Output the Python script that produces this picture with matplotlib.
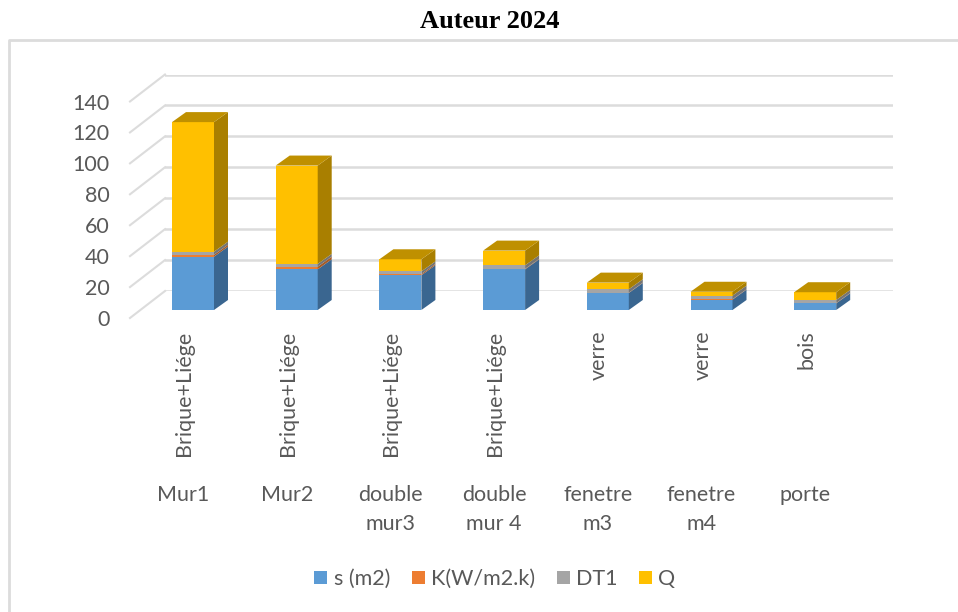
import numpy as np
import matplotlib
matplotlib.use("Agg")
import matplotlib.pyplot as plt
from matplotlib.patches import Polygon, Patch
from matplotlib.transforms import Affine2D, ScaledTranslation

categories = ["Mur1", "Mur2", "double\nmur3", "double\nmur 4", "fenetre\nm3", "fenetre\nm4", "porte"]
materials = ["Brique+Liége", "Brique+Liége", "Brique+Liége", "Brique+Liége", "verre", "verre", "bois"]
s_m2 = [34.5, 26.3, 22.5, 26.3, 11.0, 6.7, 4.3]
k_val = [1.2, 1.7, 0.8, 0.3, 0.2, 0.2, 0.2]
dt1 = [2.0, 1.8, 1.7, 2.3, 2.2, 2.4, 2.0]
q_val = [83.8, 63.6, 7.8, 9.5, 4.3, 2.5, 5.0]
series_names = ["s (m2)", "K(W/m2.k)", "DT1", "Q"]
series = [s_m2, k_val, dt1, q_val]
face_colors = ["#5B9BD5", "#ED7D31", "#A5A5A5", "#FFC000"]
side_colors = ["#3A6690", "#A65A25", "#747474", "#A97F00"]
top_color = "#BF9000"
yticks = [0, 20, 40, 60, 80, 100, 120, 140]

W, H = 958, 612
GRID = "#DCDCDC"
TXT = "#595959"
FONT = "Lato"
FS = 15.5
plt.rcParams["font.family"] = [FONT, "DejaVu Sans"]

fig = plt.figure(figsize=(W / 100, H / 100), dpi=100)
fig.patch.set_facecolor("white")

# wall plane in pixels
L, R, TOP, BOT = 165, 893, 74.5, 291
ax = fig.add_axes([L / W, 1 - BOT / H, (R - L) / W, (BOT - TOP) / H])
STEP = 103.7
C0 = 193
xlim = ((L - C0) / STEP, (R - C0) / STEP)
ax.set_xlim(*xlim)
ax.set_ylim(0, 140)
px_y = (BOT - TOP) / 140
ax.patch.set_visible(False)
for sp in ax.spines.values():
    sp.set_visible(False)

ax.set_yticks(yticks)
ax.grid(axis="y", color=GRID, lw=1.8, zorder=0)
ax.set_axisbelow(True)
ax.tick_params(axis="y", length=0, pad=40, labelsize=FS, labelcolor=TXT)
shift = ScaledTranslation(0, -27 / 100, fig.dpi_scale_trans)
for lab in ax.get_yticklabels():
    lab.set_transform(lab.get_transform() + shift)

# floor diagonals
for v in yticks:
    ax.plot([xlim[0], xlim[0] - 35 / STEP], [v, v - 27 / px_y],
            color=GRID, lw=1.5, clip_on=False, zorder=1)
ax.set_xlim(*xlim)
ax.set_ylim(0, 140)

# bars on the front plane
front = ax.transData + Affine2D().translate(0, -19)
x = np.arange(len(categories))
w = 42 / STEP
dx, dy = 14 / STEP, 10 / px_y
bottom = np.zeros(len(categories))
for vals, fc, sc, name in zip(series, face_colors, side_colors, series_names):
    vals = np.array(vals)
    ax.bar(x, vals, width=w, bottom=bottom, color=fc, transform=front, clip_on=False, zorder=3, linewidth=0)
    for xi, b, v in zip(x, bottom, vals):
        xr = xi + w / 2
        ax.add_patch(Polygon([(xr, b), (xr + dx, b + dy), (xr + dx, b + v + dy), (xr, b + v)],
                             closed=True, fc=sc, ec="none", transform=front, clip_on=False, zorder=3))
    bottom = bottom + vals
for xi, t in zip(x, bottom):
    xl, xr = xi - w / 2, xi + w / 2
    ax.add_patch(Polygon([(xl, t), (xr, t), (xr + dx, t + dy), (xl + dx, t + dy)],
                         closed=True, fc=top_color, ec="none", transform=front, clip_on=False, zorder=3))
ax.set_xlim(*xlim)
ax.set_ylim(0, 140)

# category labels
ax.set_xticks(x)
ax.set_xticklabels(materials, rotation=90, va="top", ha="center")
ax.tick_params(axis="x", length=0, pad=28.5, labelsize=FS, labelcolor=TXT)
lshift = ScaledTranslation(-9 / 100, 0, fig.dpi_scale_trans)
for lab in ax.get_xticklabels():
    lab.set_transform(lab.get_transform() + lshift)
for xi, c in zip(x, categories):
    ax.annotate(c, xy=(xi, 0), xycoords=("data", "axes fraction"),
                xytext=(-10 / 100 * 72, -(485 - BOT) / 100 * 72), textcoords="offset points",
                ha="center", va="top", fontsize=FS, color=TXT, linespacing=1.55, annotation_clip=False)

# legend
handles = [Patch(fc=c, ec="none", label=n) for c, n in zip(face_colors, series_names)]
fig.legend(handles=handles, loc="center", bbox_to_anchor=(495 / W, 1 - 579 / H), ncol=4, frameon=False,
           fontsize=15.5, labelcolor=TXT, handlelength=0.6, handleheight=0.6, handletextpad=0.3,
           columnspacing=1.0, borderpad=0)

# chart frame and title
fig.add_artist(plt.Line2D([9 / W, 9 / W, 1], [0, 1 - 39.5 / H, 1 - 39.5 / H], color=GRID, lw=2))
fig.text(490 / W, 1 - 21 / H, "Auteur 2024", family="Liberation Serif", weight="bold",
         fontsize=19, color="black", ha="center", va="center")

fig.savefig("out.png", dpi=100)
